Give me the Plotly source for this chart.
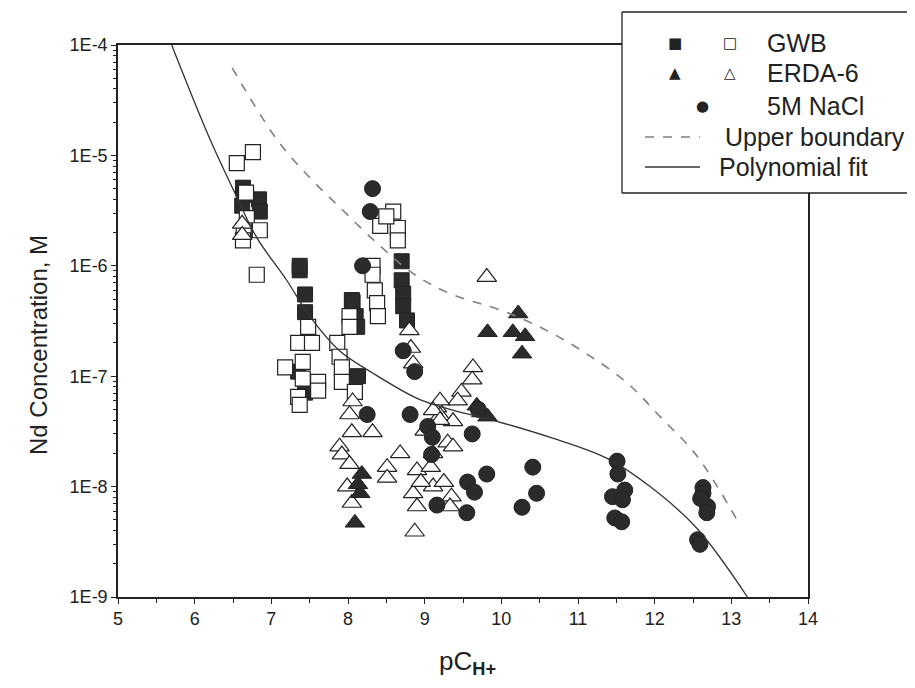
import plotly.graph_objects as go

# ---- data (pC_H+, Nd concentration M) ----
gwb_filled_x = [6.63, 6.64, 6.84, 6.85, 6.62, 7.37, 7.37, 7.44, 7.44, 7.35, 7.44,
                8.05, 8.06, 8.10, 8.12, 8.13, 8.70, 8.70, 8.72, 8.72, 8.77]
gwb_filled_y = [5.1e-6, 4.4e-6, 4.0e-6, 3.1e-6, 3.5e-6, 9.1e-7, 1.0e-6, 5.5e-7, 3.8e-7, 1.1e-7, 7.1e-8,
                4.9e-7, 4.7e-7, 3.5e-7, 2.8e-7, 1.0e-7, 1.1e-6, 7.4e-7, 5.6e-7, 4.3e-7, 3.2e-7]

gwb_open_x = [6.55, 6.76, 6.67, 6.68, 6.64, 6.85, 6.63, 6.81,
              7.48, 7.35, 7.53, 7.18, 7.41, 7.41, 7.61, 7.61, 7.35, 7.37,
              7.86, 7.89, 7.92, 7.92, 8.09, 8.02, 8.02,
              8.32, 8.32, 8.35, 8.38, 8.39, 8.59, 8.42, 8.65, 8.65, 8.50]
gwb_open_y = [8.5e-6, 1.07e-5, 4.6e-6, 2.7e-6, 2.1e-6, 2.1e-6, 1.7e-6, 8.3e-7,
              2.8e-7, 2.0e-7, 2.0e-7, 1.2e-7, 1.35e-7, 9.5e-8, 8.9e-8, 7.4e-8, 6.5e-8, 5.5e-8,
              2.0e-7, 1.5e-7, 1.2e-7, 8.9e-8, 7.2e-8, 3.5e-7, 2.8e-7,
              1.0e-6, 8.3e-7, 6.0e-7, 4.6e-7, 3.5e-7, 3.1e-6, 2.3e-6, 2.2e-6, 1.7e-6, 2.8e-6]

erda_filled_x = [8.09, 8.18, 8.16, 8.13, 9.68, 9.74, 9.82, 9.82, 10.22, 10.15, 10.31, 10.27]
erda_filled_y = [4.7e-9, 1.3e-8, 8.7e-9, 1.05e-8, 5.4e-8, 4.7e-8, 4.3e-8, 2.5e-7, 3.7e-7, 2.5e-7, 2.3e-7, 1.6e-7]

erda_open_x = [6.62, 6.62, 8.02, 8.05, 8.32, 7.89, 7.92, 8.02, 7.99, 8.05, 8.06,
               8.51, 8.51, 8.68, 8.90, 8.85, 8.90, 8.87, 9.16, 9.20,
               8.80, 8.82, 8.85, 9.63, 9.62, 9.48, 9.43, 9.20, 9.11, 9.37, 9.20,
               9.30, 9.11, 9.37, 9.08, 9.11, 9.35, 9.33, 9.81, 9.00, 8.95, 9.25]
erda_open_y = [2.4e-6, 1.9e-6, 4.5e-8, 3.1e-8, 3.1e-8, 2.3e-8, 1.95e-8, 1.6e-8, 1.0e-8, 7.1e-9, 5.9e-8,
               1.5e-8, 1.2e-8, 2.0e-8, 1.4e-8, 8.7e-9, 6.6e-9, 3.9e-9, 5.2e-8, 4.4e-8,
               2.6e-7, 1.8e-7, 1.3e-7, 1.2e-7, 9.3e-8, 7.2e-8, 6.0e-8, 6.0e-8, 4.9e-8, 3.9e-8, 4.0e-8,
               2.5e-8, 2.0e-8, 2.3e-8, 1.5e-8, 1.0e-8, 8.1e-9, 6.6e-9, 7.9e-7, 3.2e-8, 1.1e-8, 1.1e-8]

nacl_x = [8.32, 8.29, 8.19, 8.72, 8.87, 8.25, 8.81, 9.04, 9.09, 9.16, 9.62, 9.10,
          9.81, 9.56, 9.65, 9.55, 10.41, 10.46, 10.27, 9.70,
          11.51, 11.52, 11.61, 11.45, 11.58, 11.48, 11.57,
          12.63, 12.63, 12.69, 12.60, 12.68, 12.56, 12.59]
nacl_y = [5.0e-6, 3.1e-6, 1.0e-6, 1.7e-7, 1.1e-7, 4.5e-8, 4.5e-8, 3.5e-8, 1.95e-8, 6.8e-9, 3.0e-8, 2.8e-8,
          1.3e-8, 1.1e-8, 8.9e-9, 5.8e-9, 1.5e-8, 8.7e-9, 6.5e-9, 5.0e-8,
          1.7e-8, 1.3e-8, 9.3e-9, 8.1e-9, 7.6e-9, 5.2e-9, 4.8e-9,
          9.8e-9, 8.7e-9, 6.6e-9, 7.8e-9, 5.8e-9, 3.3e-9, 3.0e-9]

upper_x = [6.49, 7.07, 7.50, 7.93, 8.38, 8.85, 9.33, 10.02, 10.59, 11.11, 11.64, 12.07, 12.55, 13.11]
upper_y = [6.2e-5, 1.4e-5, 6.3e-6, 3.2e-6, 1.6e-6, 8.5e-7, 5.6e-7, 3.9e-7, 2.6e-7, 1.6e-7, 8.7e-8, 4.3e-8, 1.9e-8, 4.5e-9]

fit_x = [5.70, 6.20, 6.55, 6.81, 7.20, 7.50, 7.89, 8.32, 8.90, 9.33, 9.94, 10.63, 11.38, 11.94, 12.55, 13.21]
fit_y = [1.0e-4, 1.4e-5, 4.2e-6, 1.8e-6, 7.4e-7, 3.5e-7, 1.7e-7, 1.07e-7, 6.3e-8, 5.0e-8, 3.9e-8, 2.8e-8,
         1.8e-8, 1.0e-8, 4.2e-9, 1.0e-9]

y_tick_vals = [1e-9, 1e-8, 1e-7, 1e-6, 1e-5, 1e-4]
y_tick_text = ["1E-9", "1E-8", "1E-7", "1E-6", "1E-5", "1E-4"]

legend_labels = ["GWB", "ERDA-6", "5M NaCl", "Upper boundary", "Polynomial fit"]

# ---- layout geometry (page pixels; the page body adds an 8px offset) ----
OFF = 8
W, H = 915 - OFF, 688 - OFF                 # keep the figure inside the window
PL, PT, PW, PH = 118, 45, 690, 552          # plot box as seen on the page
INK = "#222222"
FILL = "#2b2b2b"
FONT = "Arial, Liberation Sans, sans-serif"


def px(x):
    return (x - PL) / PW


def py(y):
    return (PT + PH - y) / PH


fig = go.Figure()

fig.add_trace(go.Scatter(x=gwb_filled_x, y=gwb_filled_y, mode="markers",
                         marker=dict(symbol="square", size=15, color=FILL, line=dict(color=INK, width=1))))
fig.add_trace(go.Scatter(x=gwb_open_x, y=gwb_open_y, mode="markers",
                         marker=dict(symbol="square", size=15, color="white", line=dict(color=INK, width=1.2))))
fig.add_trace(go.Scatter(x=erda_open_x, y=erda_open_y, mode="markers",
                         marker=dict(symbol="triangle-up", size=17, color="white", line=dict(color=INK, width=1.2))))
fig.add_trace(go.Scatter(x=erda_filled_x, y=erda_filled_y, mode="markers",
                         marker=dict(symbol="triangle-up", size=17, color=FILL, line=dict(color=INK, width=1))))
fig.add_trace(go.Scatter(x=nacl_x, y=nacl_y, mode="markers",
                         marker=dict(symbol="circle", size=16, color=FILL, line=dict(color=INK, width=1))))
fig.add_trace(go.Scatter(x=upper_x, y=upper_y, mode="lines", line_shape="spline",
                         line=dict(color="#808080", width=1.6, dash="dash")))
fig.add_trace(go.Scatter(x=fit_x, y=fit_y, mode="lines", line_shape="spline",
                         line=dict(color="#333333", width=1.3)))

axis_common = dict(showline=True, linecolor=INK, linewidth=1.5, mirror=True, showgrid=False, zeroline=False,
                   ticks="outside", tickcolor=INK, tickwidth=1.3, ticklen=5,
                   tickfont=dict(family=FONT, size=18, color=INK))

fig.update_xaxes(range=[5, 14], dtick=1, tick0=5,
                 minor=dict(dtick=0.5, ticks="outside", ticklen=4, tickcolor=INK), **axis_common)
fig.update_yaxes(type="log", range=[-9, -4], tickmode="array", tickvals=y_tick_vals, ticktext=y_tick_text,
                 minor=dict(tickmode="array", ticks="outside", ticklen=3, tickcolor=INK,
                            tickvals=[k * v for v in y_tick_vals[:-1] for k in range(2, 10)]),
                 **axis_common)

# legend box drawn by hand (two symbols per entry); it runs off the right edge
x0, x1, y0, y1 = px(622), px(915), py(193), py(12)
edge = dict(color=INK, width=1.3)
shapes = [dict(type="rect", xref="paper", yref="paper", x0=x0, x1=x1, y0=y0, y1=y1,
               line=dict(color="white", width=0), fillcolor="white", layer="above"),
          dict(type="line", xref="paper", yref="paper", x0=x0, x1=x1, y0=y1, y1=y1, line=edge, layer="above"),
          dict(type="line", xref="paper", yref="paper", x0=x0, x1=x1, y0=y0, y1=y0, line=edge, layer="above"),
          dict(type="line", xref="paper", yref="paper", x0=x0, x1=x0, y0=y0, y1=y1, line=edge, layer="above"),
          dict(type="line", xref="paper", yref="paper", x0=px(645), x1=px(700), y0=py(137), y1=py(137),
               line=dict(color="#808080", width=1.4, dash="dash"), layer="above"),
          dict(type="line", xref="paper", yref="paper", x0=px(645), x1=px(700), y0=py(167), y1=py(167),
               line=dict(color="#333333", width=1.3), layer="above")]

ann = []
rows_y = [43, 73, 106, 137, 167]
sym = [("■", 675, 43), ("□", 730, 43), ("▲", 675, 73), ("△", 730, 73), ("●", 702, 106)]
for s, x, y in sym:
    ann.append(dict(text=s, x=px(x), y=py(y), xref="paper", yref="paper", showarrow=False,
                    xanchor="center", yanchor="middle",
                    font=dict(family="DejaVu Sans", size=15, color=INK)))
text_x = [765, 765, 765, 723, 717]
for lab, x, y in zip(legend_labels, text_x, rows_y):
    ann.append(dict(text=lab, x=px(x), y=py(y), xref="paper", yref="paper", showarrow=False,
                    xanchor="left", yanchor="middle", font=dict(family=FONT, size=25, color=INK)))

ann.append(dict(text="Nd Concentration, M", x=px(38), y=py(345), xref="paper", yref="paper", showarrow=False,
                xanchor="center", yanchor="middle", textangle=-90,
                font=dict(family=FONT, size=24, color=INK)))
ann.append(dict(text="pC<sub><b>H+</b></sub>", x=px(467), y=py(662), xref="paper", yref="paper",
                xanchor="center", yanchor="middle", showarrow=False,
                font=dict(family=FONT, size=26, color=INK)))

fig.update_layout(width=W, height=H,
                  margin=dict(l=PL - OFF, r=W - (PL - OFF) - PW, t=PT - OFF, b=H - (PT - OFF) - PH),
                  paper_bgcolor="white", plot_bgcolor="white", showlegend=False,
                  shapes=shapes, annotations=ann, font=dict(family=FONT, color=INK))

fig.write_html("out.html")
